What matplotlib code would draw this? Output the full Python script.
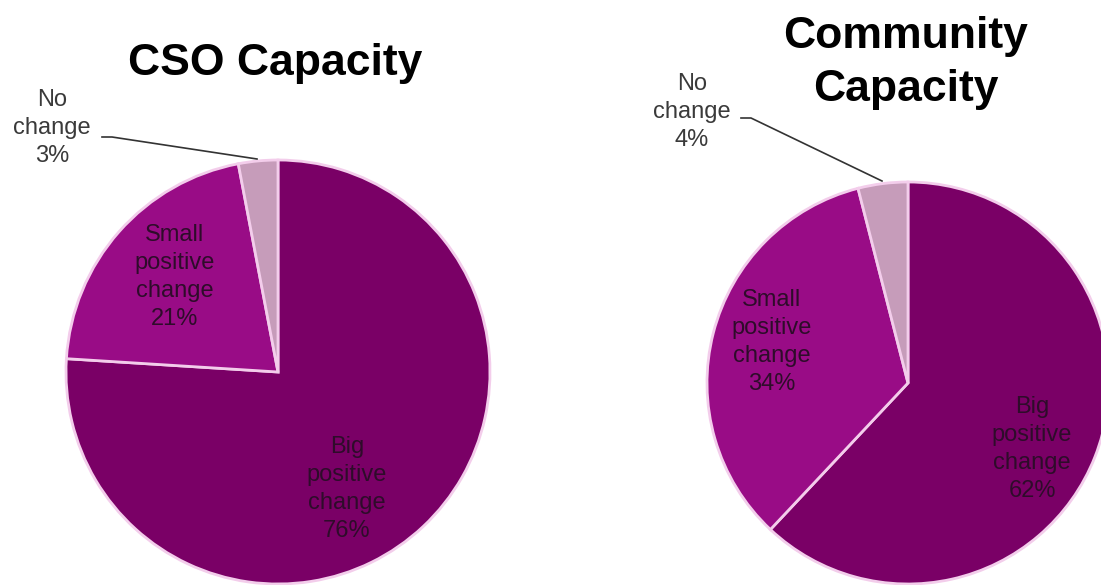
import matplotlib
matplotlib.use("Agg")
import matplotlib.pyplot as plt

plt.rcParams['font.family'] = ['Liberation Sans', 'DejaVu Sans']

# data
categories = ["Big\npositive\nchange", "Small\npositive\nchange", "No\nchange"]
cso_values = [76, 21, 3]
community_values = [62, 34, 4]
titles = ["CSO Capacity", "Community\nCapacity"]

colors = ["#7A0066", "#990C86", "#C69CBA"]
edge = "#F3CDEB"

W, H = 1101, 585
fig = plt.figure(figsize=(W / 100, H / 100), dpi=100)
ax = fig.add_axes([0, 0, 1, 1])
ax.set_xlim(0, W)
ax.set_ylim(0, H)
ax.set_aspect("equal")
ax.axis("off")

# pie geometry in pixel coords (image y measured from top)
pies = [
    dict(values=cso_values, center=(278, 372), radius=212,
         title_xy=(275, 63),
         label_xy=[(347, 489), (175, 277), (52, 128)],
         leader=[(102, 137), (112, 137), (257, 159)]),
    dict(values=community_values, center=(908, 383), radius=201,
         title_xy=(906, 63),
         label_xy=[(1032, 449), (772, 342), (692, 112)],
         leader=[(741, 118), (751, 118), (882, 181)]),
]

for p, title in zip(pies, titles):
    cx, cy = p["center"]
    ax.pie(p["values"], center=(cx, H - cy), radius=p["radius"],
           colors=colors, startangle=90, counterclock=False,
           wedgeprops=dict(edgecolor=edge, linewidth=2))
    for i, (cat, val) in enumerate(zip(categories, p["values"])):
        lx, ly = p["label_xy"][i]
        col = "#3a3a3a" if i == 2 else "#2e0c2a"
        ax.text(lx, H - ly, f"{cat}\n{val}%", ha="center", va="center",
                fontsize=17, color=col, linespacing=1.35)
    xs = [q[0] for q in p["leader"]]
    ys = [H - q[1] for q in p["leader"]]
    ax.plot(xs, ys, color="#333333", linewidth=1.2)
    tx, ty = p["title_xy"]
    ax.text(tx, H - ty, title, ha="center", va="center",
            fontsize=32, fontweight="bold", color="black", linespacing=1.4)

ax.set_xlim(0, W)
ax.set_ylim(0, H)
fig.savefig("out.png", dpi=100, facecolor="white")
